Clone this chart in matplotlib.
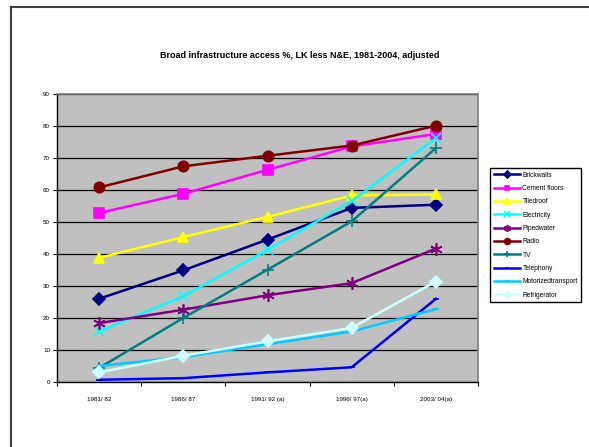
import matplotlib
matplotlib.use('Agg')
from matplotlib import pyplot as plt
from matplotlib.lines import Line2D
import numpy as np

plt.rcParams['font.family'] = ['Liberation Sans', 'DejaVu Sans']

# Survey rounds and access shares (%)
periods = ['1981/ 82', '1986/ 87', '1991/ 92 (a)', '1996/ 97(a)', '2003/ 04(a)']
brickwalls = [26.0, 34.9, 44.5, 54.4, 55.4]
cement_floors = [52.8, 58.8, 66.3, 73.6, 77.5]
tiled_roof = [38.8, 45.3, 51.6, 58.3, 58.6]
electricity = [15.8, 26.8, 41.3, 56.5, 76.2]
piped_water = [18.4, 22.6, 27.1, 30.9, 41.7]
radio = [60.8, 67.4, 70.7, 73.9, 80.1]
tv = [4.4, 20.0, 35.1, 50.2, 73.1]
telephony = [0.7, 1.2, 3.0, 4.6, 26.0]
motorized = [5.0, 7.8, 11.8, 15.8, 22.8]
refrigerator = [3.0, 8.2, 12.7, 16.9, 31.4]

series = [
    ('Brickwalls', brickwalls, '#000080', 'D', 6.5),
    ('Cement floors', cement_floors, '#FF00FF', 's', 6.5),
    ('Tiledroof', tiled_roof, '#FFFF00', '^', 7.5),
    ('Electricity', electricity, '#00FFFF', 'x', 7),
    ('Pipedwater', piped_water, '#800080', (6, 2, 0), 9),
    ('Radio', radio, '#800000', 'o', 7.5),
    ('TV', tv, '#008080', '+', 8),
    ('Telephony', telephony, '#0000FF', '_', 5),
    ('Motorizedtransport', motorized, '#00CCFF', '_', 5),
    ('Refrigerator', refrigerator, '#CCFFFF', 'D', 6.5),
]

fig = plt.figure(figsize=(5.89, 4.47), dpi=100)

# outer chart frame
fig.add_artist(Line2D([11 / 589, 11 / 589], [0, 1 - 7 / 447], color='#404040', lw=1.5))
fig.add_artist(Line2D([11 / 589, 1], [1 - 7 / 447, 1 - 7 / 447], color='#404040', lw=1.5))

ax = fig.add_axes([57 / 589, 65 / 447, 421 / 589, 288 / 447])
ax.set_facecolor('#C0C0C0')

x = np.arange(len(periods))
for name, vals, col, mk, ms in series:
    ax.plot(x, vals, color=col, lw=1.8, marker=mk, markersize=ms,
            markeredgewidth=1.2, markeredgecolor=col, markerfacecolor=col, label=name)

ax.set_xlim(-0.5, len(periods) - 0.5)
ax.set_ylim(0, 90)
ax.set_yticks(np.arange(0, 91, 10))
ax.yaxis.grid(True, color='black', lw=0.9)
ax.set_axisbelow(True)

ax.set_xticks(np.arange(-0.5, len(periods), 1))
ax.set_xticklabels([])
ax.set_xticks(x, minor=True)
ax.set_xticklabels(periods, minor=True, fontsize=4.5)
ax.tick_params(axis='x', which='minor', length=0, pad=11)
ax.tick_params(axis='x', which='major', direction='out', length=3, width=0.8)
ax.tick_params(axis='y', direction='out', length=3, width=0.8, labelsize=4.5, pad=2)

for side in ['top', 'right']:
    ax.spines[side].set_color('#808080')
    ax.spines[side].set_linewidth(1.2)
for side in ['left', 'bottom']:
    ax.spines[side].set_color('black')
    ax.spines[side].set_linewidth(1.0)

fig.text(300 / 589, 1 - 55 / 447,
         'Broad infrastructure access %, LK less N&E, 1981-2004, adjusted',
         ha='center', va='center', fontsize=6.5, fontweight='bold')

leg = ax.legend(loc='upper left', bbox_to_anchor=(487 / 589, 1 - 165 / 447),
                bbox_transform=fig.transFigure, fontsize=4.8, frameon=True,
                fancybox=False, edgecolor='black', framealpha=1,
                handlelength=4, handletextpad=0.3, labelspacing=0.95,
                borderpad=0.5, markerscale=0.55)
leg.get_frame().set_linewidth(1.0)

plt.savefig('out.png', dpi=100)
